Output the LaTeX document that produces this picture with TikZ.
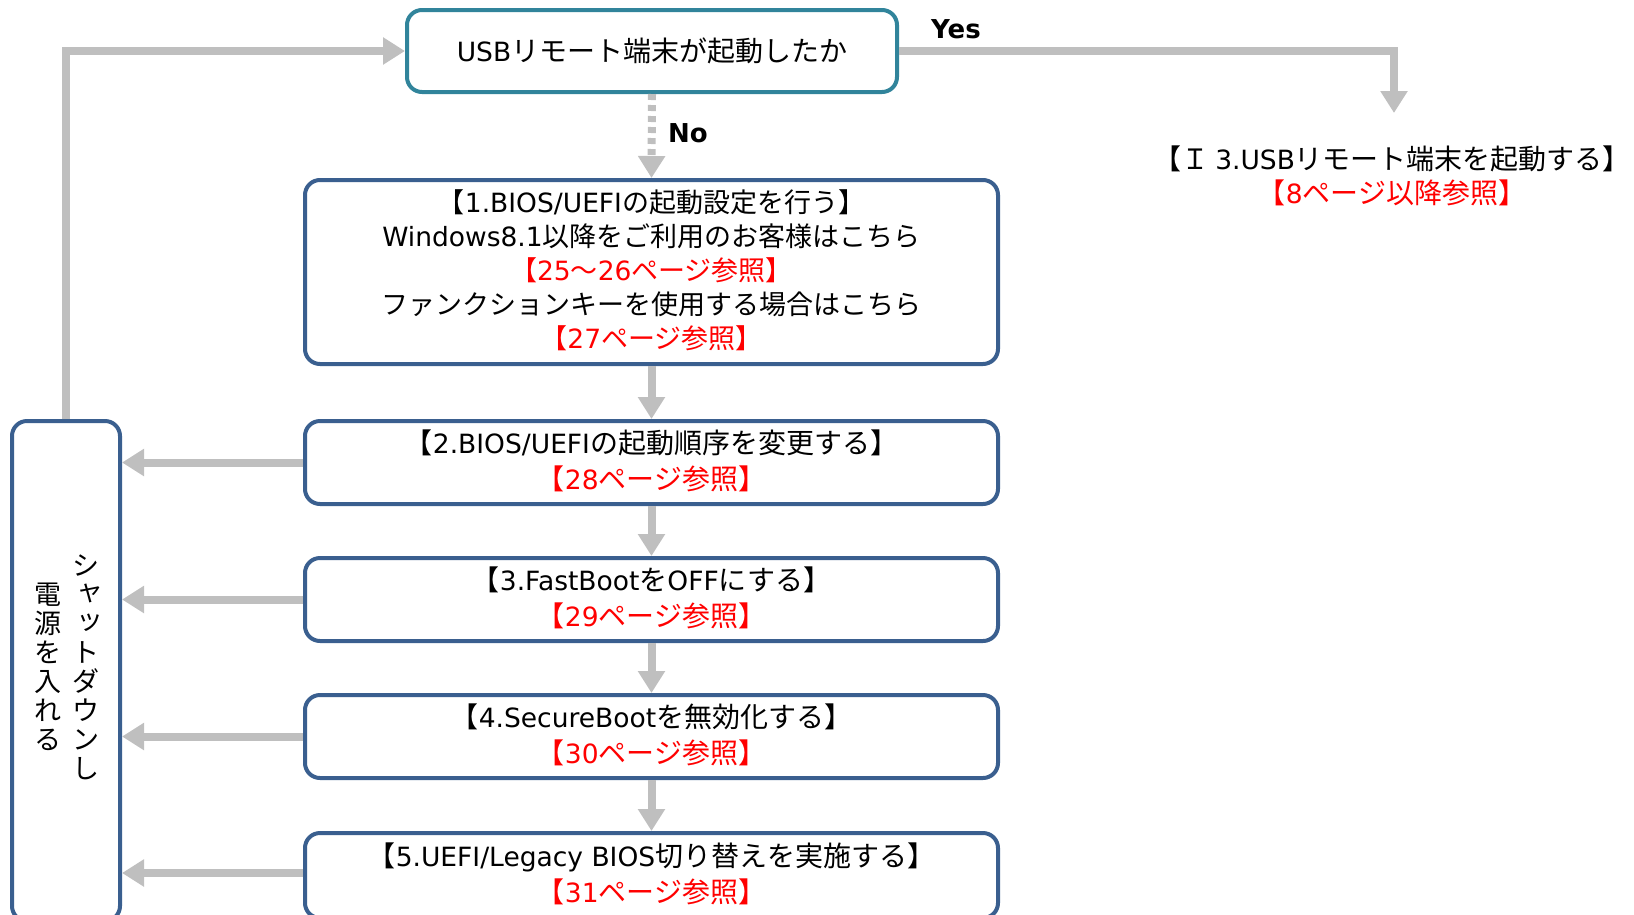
\documentclass[tikz,border=0pt]{standalone}
\usepackage{fontspec}
\setmainfont{Noto Sans CJK JP}
\newfontfamily\latf{DejaVu Sans}
\usetikzlibrary{arrows.meta}
\definecolor{boxblue}{HTML}{3A5F8F}
\definecolor{boxteal}{HTML}{31849B}
\definecolor{arrgray}{HTML}{BFBFBF}
\definecolor{refred}{HTML}{FF0000}
\tikzset{
  stepbox/.style={draw=boxblue, line width=4pt, rounded corners=15pt, fill=white,
    minimum width=693pt, align=center, inner sep=0pt, font=\fontsize{28}{36.5}\selectfont},
  conn/.style={draw=arrgray, line width=8pt, -{Triangle[length=22pt,width=26pt]}},
  lab/.style={font=\latf\fontsize{26}{30}\selectfont\bfseries, inner sep=0pt},
  vcol/.style={align=center, inner sep=0pt, font=\fontsize{27}{29}\selectfont}
}
\newcommand{\rref}[1]{\textcolor{refred}{#1}}
\newcommand{\la}[1]{{\latf\fontsize{26.5}{34}\selectfont #1}}
\newcommand{\sk}[1]{\makebox[1em]{\hspace{0.3em}\raisebox{0.15em}{#1}}}
\newcommand{\up}{\rule[-6pt]{0pt}{0pt}}
\begin{document}
\begin{tikzpicture}[x=1pt,y=-1pt]
\useasboundingbox (0,0) rectangle (1634,914);
\clip (0,0) rectangle (1634,914);
\node[draw=boxteal, line width=4pt, rounded corners=15pt, minimum width=490pt, minimum height=82pt, inner sep=0pt, font=\fontsize{28}{30}\selectfont] (top) at (652,51) {\la{USB}リモート端末が起動したか};
\node[stepbox, minimum height=184pt, font=\fontsize{27}{34}\selectfont] (b1) at (651.5,272) {【\la{1.BIOS/UEFI}の起動設定を行う】\\\la{Windows8.1}以降をご利用のお客様はこちら\\\rref{【\la{25}～\la{26}ページ参照】}\\ファンクションキーを使用する場合はこちら\\\rref{【\la{27}ページ参照】}\up};
\node[stepbox, minimum height=83pt] (b2) at (651.5,462.5) {【\la{2.BIOS/UEFI}の起動順序を変更する】\\\rref{【\la{28}ページ参照】}\up};
\node[stepbox, minimum height=83pt] (b3) at (651.5,599.5) {【\la{3.FastBoot}を\la{OFF}にする】\\\rref{【\la{29}ページ参照】}\up};
\node[stepbox, minimum height=83pt] (b4) at (651.5,736.5) {【\la{4.SecureBoot}を無効化する】\\\rref{【\la{30}ページ参照】}\up};
\node[stepbox, minimum height=85pt] (b5) at (651.5,875.5) {【\la{5.UEFI/Legacy BIOS}切り替えを実施する】\\\rref{【\la{31}ページ参照】}\up};
\node[draw=boxblue, line width=4pt, rounded corners=15pt, minimum width=108pt, minimum height=500pt, inner sep=0pt] (left) at (66,671) {};
\node[vcol] (vright) at (86,667) {シ\\\sk{ャ}\\\sk{ッ}\\ト\\ダ\\ウ\\ン\\し};
\node[vcol] (vleft) at (48,667) {電\\源\\を\\入\\れ\\る};
\node[align=center, inner sep=0pt, font=\fontsize{28}{34}\selectfont] (ref) at (1392,176) {【Ｉ \la{3.USB}リモート端末を起動する】\\\rref{【\la{8}ページ以降参照】}};
\coordinate (yesend) at (1394,113);
\node[lab] (yes) at (956,29) {Yes};
\node[lab] (no) at (688,133) {No};
\draw[conn] (top.east) -| (yesend);
\draw[conn, dash pattern=on 6pt off 5pt] (top.south) -- (b1.north);
\draw[conn] (left.north) |- (top.west);
\draw[conn] (b1.south) -- (b2.north);
\draw[conn] (b2.south) -- (b3.north);
\draw[conn] (b3.south) -- (b4.north);
\draw[conn] (b4.south) -- (b5.north);
\draw[conn] (b2.west) -- (left.east |- b2.west);
\draw[conn] (b3.west) -- (left.east |- b3.west);
\draw[conn] (b4.west) -- (left.east |- b4.west);
\draw[conn] (b5.west |- 0,873) -- (left.east |- 0,873);
\end{tikzpicture}
\end{document}
